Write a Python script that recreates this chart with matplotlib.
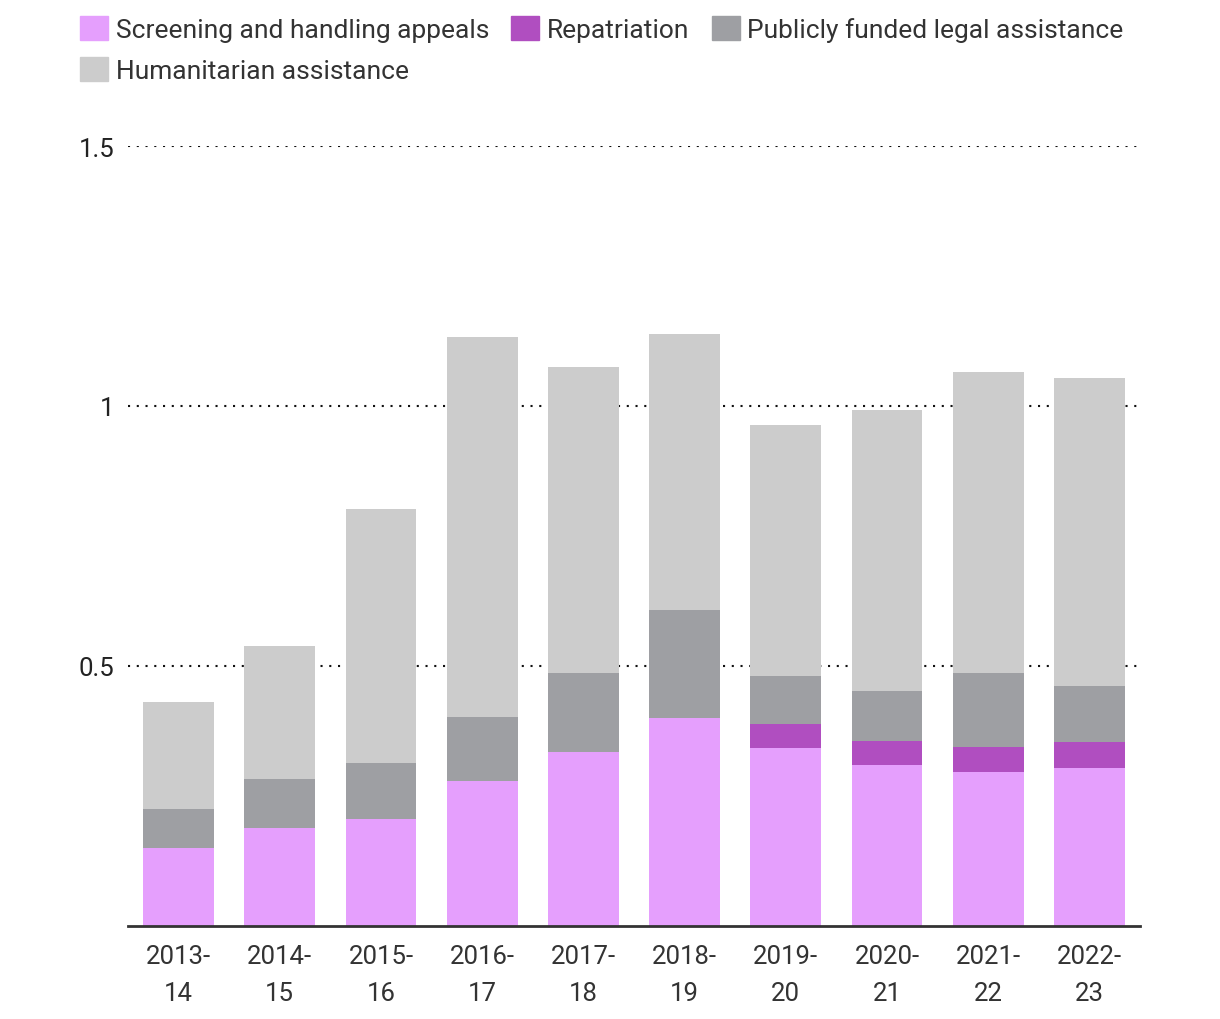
import matplotlib.pyplot as plt
from matplotlib.patches import Patch
import numpy as np

plt.rcParams['font.family'] = ['Roboto', 'DejaVu Sans']

# data (billions)
years = ['2013-\n14', '2014-\n15', '2015-\n16', '2016-\n17', '2017-\n18',
         '2018-\n19', '2019-\n20', '2020-\n21', '2021-\n22', '2022-\n23']
screening = [0.150, 0.188, 0.206, 0.279, 0.335, 0.400, 0.342, 0.310, 0.296, 0.304]
repatriation = [0, 0, 0, 0, 0, 0, 0.046, 0.046, 0.048, 0.050]
legal = [0.075, 0.094, 0.108, 0.123, 0.152, 0.208, 0.092, 0.096, 0.142, 0.108]
humanitarian = [0.206, 0.256, 0.488, 0.731, 0.588, 0.531, 0.483, 0.540, 0.579, 0.592]

series = [
    ('Screening and handling appeals', screening, '#e59ffd'),
    ('Repatriation', repatriation, '#b04ec0'),
    ('Publicly funded legal assistance', legal, '#9e9fa3'),
    ('Humanitarian assistance', humanitarian, '#cccccc'),
]

fig = plt.figure(figsize=(12.2, 10.2), dpi=100)
ax = fig.add_axes([128/1220, 93/1020, 1012/1220, 780/1020])

x = np.arange(len(years))
bottom = np.zeros(len(years))
for name, vals, col in series:
    ax.bar(x, vals, width=0.7, bottom=bottom, color=col, zorder=2)
    bottom += np.array(vals)

ax.set_xlim(-0.5, len(years) - 0.5)
ax.set_ylim(0, 1.5)
ax.set_yticks([0.5, 1, 1.5])
ax.set_yticklabels(['0.5', '1', '1.5'])
ax.set_xticks(x)
ax.set_xticklabels(years, linespacing=1.7)

ax.grid(axis='y', color='#111111', linestyle=(0, (1, 3.2)), linewidth=1.5, zorder=1)
for s in ['top', 'right', 'left']:
    ax.spines[s].set_visible(False)
ax.spines['bottom'].set_color('#333333')
ax.spines['bottom'].set_linewidth(2)
ax.spines['bottom'].set_zorder(3)
ax.tick_params(axis='y', length=0, pad=10, labelsize=18.5, labelcolor='#222222')
ax.tick_params(axis='x', length=0, pad=13, labelsize=18.5, labelcolor='#333333')

# legend, row-major order
h = [Patch(color=c) for _, _, c in series]
labels = [n for n, _, _ in series]
order = [0, 3, 1, 2]
fig.legend([h[i] for i in order], [labels[i] for i in order],
           loc='upper left', bbox_to_anchor=(80/1220, 1 - 17/1020), ncol=3,
           frameon=False, fontsize=19, handlelength=1.05, handleheight=1.05,
           handletextpad=0.3, columnspacing=0.85, labelspacing=0.55,
           borderaxespad=0, borderpad=0, labelcolor='#333333')

plt.savefig('out.png', dpi=100)
